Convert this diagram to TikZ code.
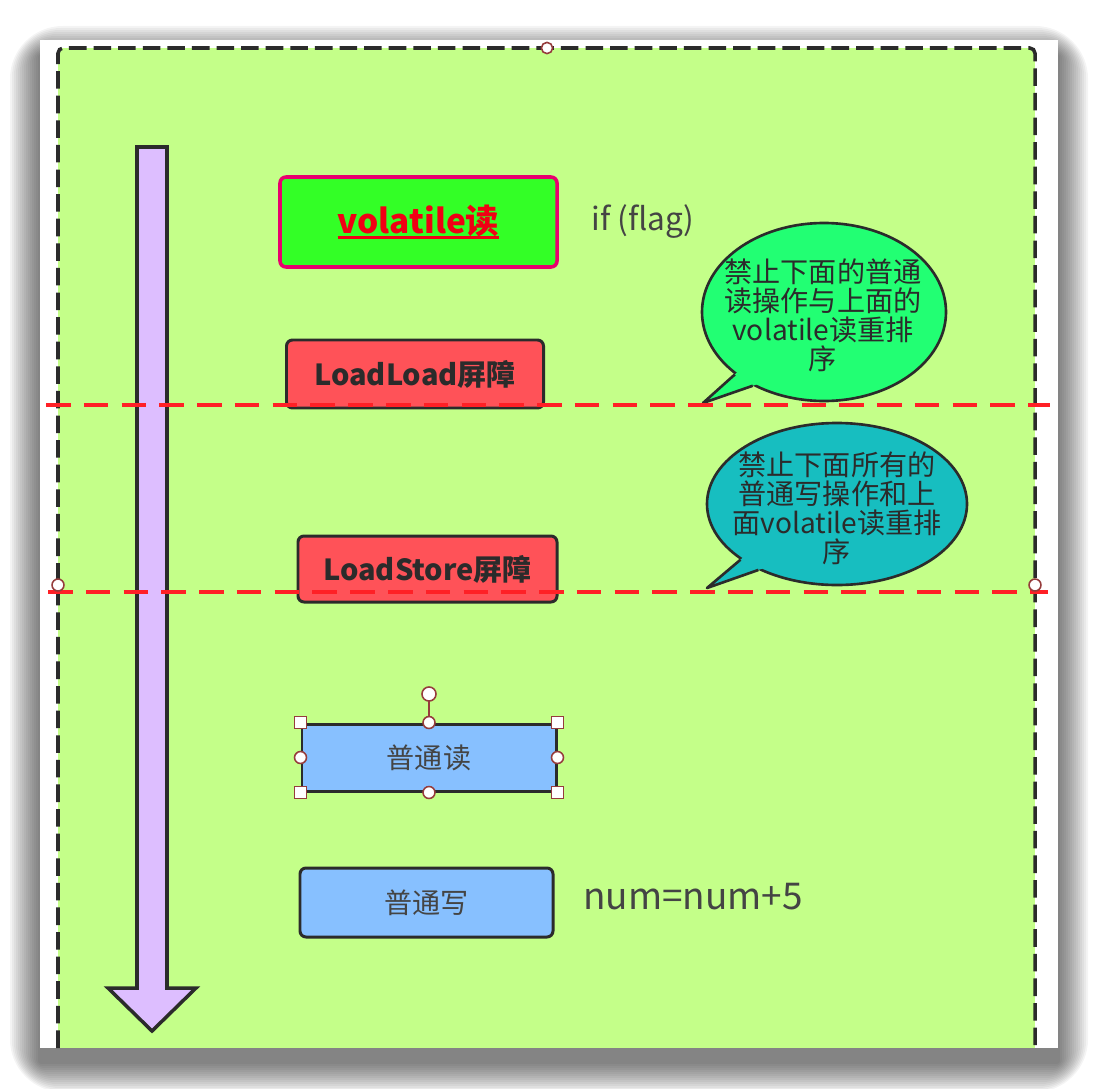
\documentclass[tikz,border=0pt]{standalone}
\usepackage{fontspec}
\setmainfont{Noto Sans CJK SC}
\usetikzlibrary{shapes.geometric,calc}
\newcommand{\pxu}{0.02cm}
\newcommand{\thickul}[1]{\setbox0\hbox{#1}\rlap{\rule[-2.6pt]{\wd0}{1.5pt}}\box0}
\definecolor{paneltint}{RGB}{196,255,137}
\definecolor{volgreen}{RGB}{51,255,38}
\definecolor{volborder}{RGB}{232,0,110}
\definecolor{volred}{RGB}{240,0,20}
\definecolor{barred}{RGB}{255,82,88}
\definecolor{opblue}{RGB}{135,192,255}
\definecolor{arrowlilac}{RGB}{221,190,255}
\definecolor{bubgreen}{RGB}{34,255,115}
\definecolor{bubteal}{RGB}{23,190,192}
\definecolor{fenceline}{RGB}{255,32,38}
\definecolor{inkgray}{RGB}{43,43,43}
\definecolor{labelgray}{RGB}{68,68,68}
\definecolor{handlered}{RGB}{150,60,60}
\tikzset{
	barbox/.style={draw=inkgray, fill=barred, line width=1.7pt, rounded corners=3.4pt, text=inkgray, font=\bfseries\fontsize{16.5}{20}\selectfont},
	opbox/.style={draw=inkgray, fill=opblue, line width=1.7pt, rounded corners=3.4pt, text=labelgray, font=\fontsize{16}{19}\selectfont},
	bubble/.style={ellipse, draw=inkgray, line width=1.5pt, inner sep=0pt},
	bubtext/.style={align=center, text=inkgray, font=\fontsize{16}{16.5}\selectfont},
	fence/.style={draw=fenceline, line width=2.3pt, dash pattern=on 14pt off 7.5pt},
	handle/.style={draw=handlered, fill=white, line width=0.9pt},
	note/.style={text=labelgray}
}
\begin{document}
\begin{tikzpicture}[x=0.02cm, y=-0.02cm]
	\useasboundingbox (0,0) rectangle (1098,1088);
	\foreach \s in {2,4,...,30}
		\fill[black, opacity=0.045, rounded corners=\s pt] (40-\s,56-\s) rectangle (1058+\s,1062+\s);
	\fill[white] (40,40) rectangle (1058,1048);
	\fill[paneltint] (58,48) rectangle (1035,1048);
	\draw[inkgray, line width=2pt, dash pattern=on 10pt off 4pt, rounded corners=3pt] (58,1048) -- (58,48) -- (1035,48) -- (1035,1048);
	\filldraw[fill=arrowlilac, draw=inkgray, line width=2pt] (137,147) -- (167,147) -- (167,988) -- (196,988) -- (152,1031) -- (108,988) -- (137,988) -- cycle;
	\node[draw=volborder, fill=volgreen, line width=2pt, rounded corners=3.4pt, minimum width=277*\pxu, minimum height=90*\pxu, text=volred, font=\bfseries\fontsize{19}{23}\selectfont] (vol) at (418.5,222) {\thickul{volatile读}};
	\node[note, font=\fontsize{18}{21}\selectfont] (cond) at (643,222) {if (flag)};
	\node[barbox, minimum width=257*\pxu, minimum height=68*\pxu] (ll) at (415,374) {LoadLoad屏障};
	\node[barbox, minimum width=259*\pxu, minimum height=66*\pxu] (ls) at (427.5,569) {LoadStore屏障};
	\node[opbox, rounded corners=0pt, minimum width=254*\pxu, minimum height=67*\pxu] (pr) at (429,757.5) {普通读};
	\node[opbox, minimum width=253*\pxu, minimum height=69*\pxu] (pw) at (426.5,902.5) {普通写};
	\node[note, font=\fontsize{21}{25}\selectfont] (expr) at (693,897) {num=num+5};
	\node[bubble, fill=bubgreen, minimum width=244*\pxu, minimum height=178*\pxu] (bub1) at (824,312) {};
	\coordinate (tip1) at (703,403);
	\fill[bubgreen] (tip1) -- ($(tip1)!1.4!(bub1.215)$) -- ($(tip1)!1.4!(bub1.226)$) -- cycle;
	\draw[inkgray, line width=1.5pt, line join=round] (bub1.215) -- (tip1) -- (bub1.226);
	\node[bubtext] (bub1txt) at (823,315) {禁止下面的普通\\读操作与上面的\\volatile读重排\\序};
	\node[bubble, fill=bubteal, minimum width=260*\pxu, minimum height=162*\pxu] (bub2) at (837,504) {};
	\coordinate (tip2) at (707,588);
	\fill[bubteal] (tip2) -- ($(tip2)!1.4!(bub2.210)$) -- ($(tip2)!1.4!(bub2.220)$) -- cycle;
	\draw[inkgray, line width=1.5pt, line join=round] (bub2.210) -- (tip2) -- (bub2.220);
	\node[bubtext] (bub2txt) at (837,508) {禁止下面所有的\\普通写操作和上\\面volatile读重排\\序};
	\coordinate (f1a) at (46,405);
	\coordinate (f1b) at (1050,405);
	\coordinate (f2a) at (48,592);
	\coordinate (f2b) at (1048,592);
	\draw[fence] (f1a) -- (f1b);
	\draw[fence] (f2a) -- (f2b);
	\coordinate (rot) at (429,694);
	\draw[handle] (pr.north) -- (rot);
	\filldraw[handle] (rot) circle[radius=4pt];
	\foreach \a in {north west,north east,south west,south east}
		\filldraw[handle] ($(pr.\a)+(-6,-6)$) rectangle ($(pr.\a)+(6,6)$);
	\foreach \a in {north,south,west,east}
		\filldraw[handle] (pr.\a) circle[radius=3.4pt];
	\filldraw[handle] (547,48) circle[radius=3.2pt];
	\filldraw[handle] (58,585) circle[radius=3.4pt];
	\filldraw[handle] (1035,585) circle[radius=3.4pt];
\end{tikzpicture}
\end{document}
